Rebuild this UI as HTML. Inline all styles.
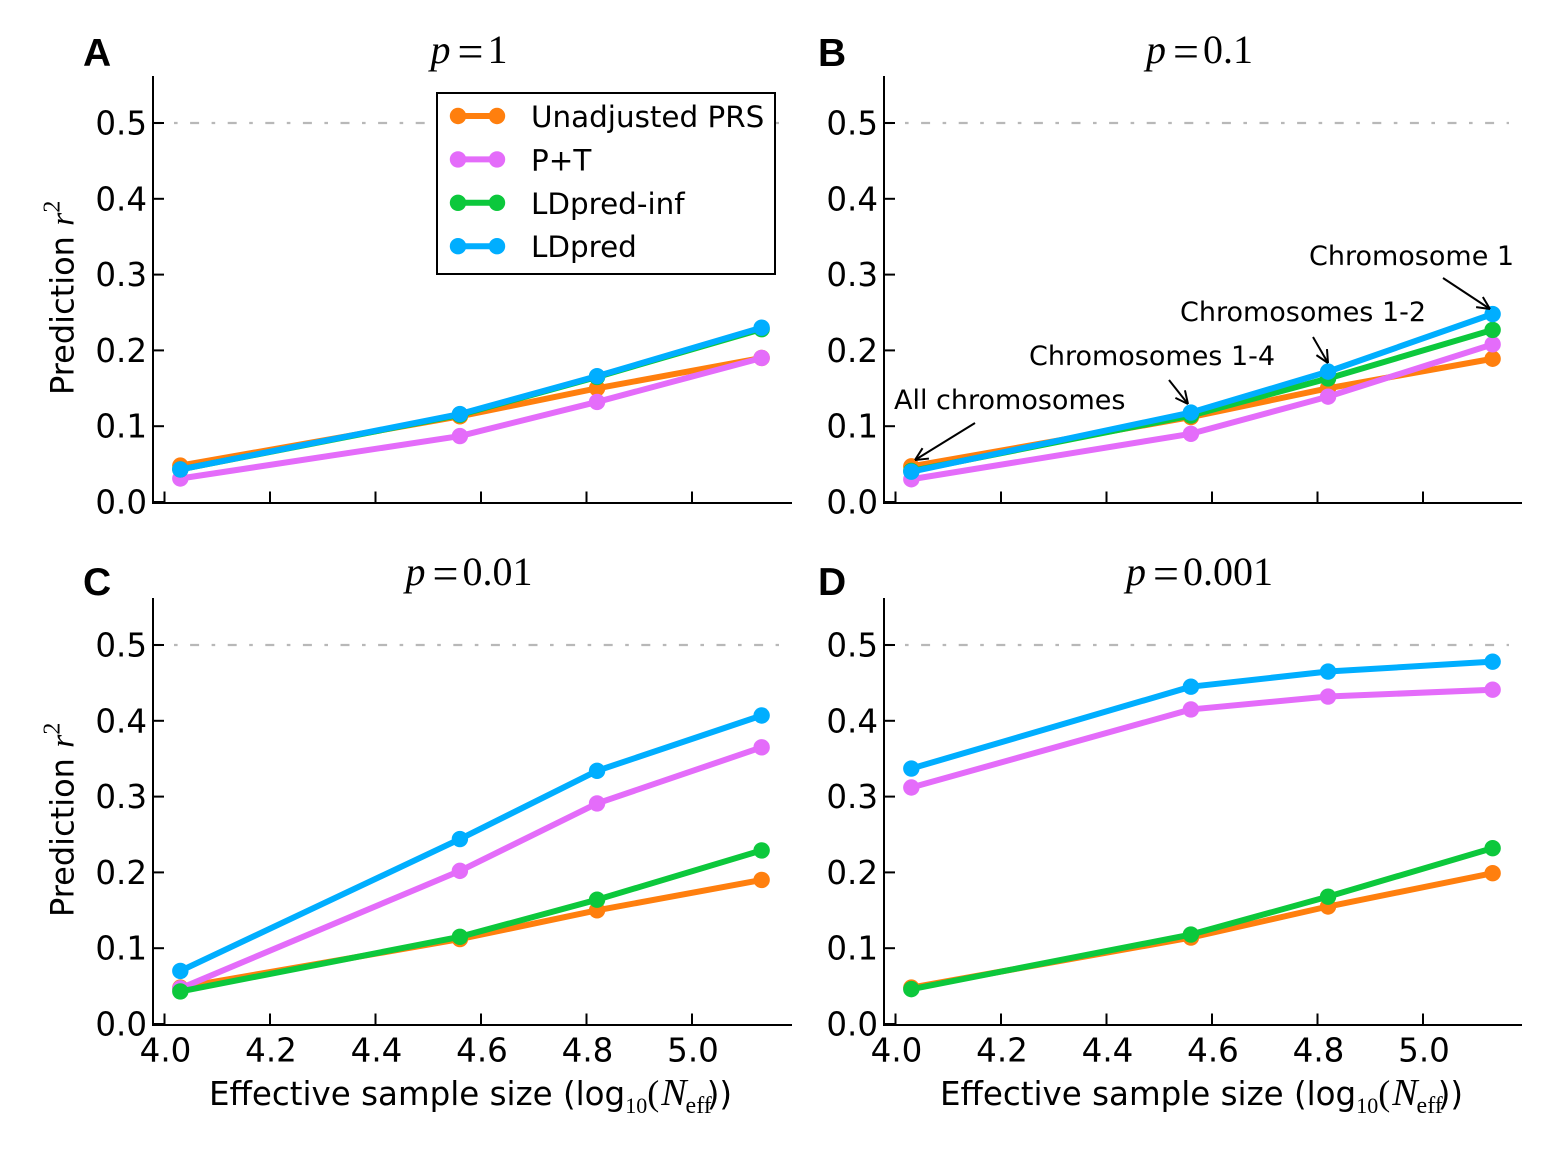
<!DOCTYPE html>
<html>
<head>
<meta charset="utf-8">
<title>Prediction r2 by effective sample size</title>
<style>
html,body{margin:0;padding:0;background:#fff;width:1566px;height:1164px;overflow:hidden}
svg{display:block}
text{font-family:"DejaVu Sans","Liberation Sans",sans-serif;fill:#000}
.math{font-family:"Liberation Serif","DejaVu Serif",serif}
.letter{font-family:"Liberation Sans",sans-serif;font-weight:bold;font-size:39px}
</style>
</head>
<body>
<svg id="chart" width="1566" height="1164" viewBox="0 0 1566 1164" xmlns="http://www.w3.org/2000/svg"></svg>
<script>
const sampleSizes = [4.03, 4.56, 4.82, 5.132];
const xTicks = [4.0, 4.2, 4.4, 4.6, 4.8, 5.0];
const yTicks = [0.0, 0.1, 0.2, 0.3, 0.4, 0.5];
const referenceLevel = 0.5;
const seriesNames = ['Unadjusted PRS', 'P+T', 'LDpred-inf', 'LDpred'];
const panelLetters = ['A', 'B', 'C', 'D'];
const panelPValues = ['1', '0.1', '0.01', '0.001'];

const unadjustedA = [0.048, 0.113, 0.150, 0.190];
const ptA = [0.031, 0.087, 0.132, 0.190];
const infA = [0.043, 0.115, 0.165, 0.228];
const ldpredA = [0.043, 0.116, 0.166, 0.230];

const unadjustedB = [0.047, 0.112, 0.150, 0.189];
const ptB = [0.030, 0.090, 0.139, 0.208];
const infB = [0.041, 0.114, 0.163, 0.227];
const ldpredB = [0.040, 0.118, 0.172, 0.248];

const unadjustedC = [0.048, 0.112, 0.150, 0.190];
const ptC = [0.047, 0.202, 0.291, 0.365];
const infC = [0.043, 0.115, 0.164, 0.229];
const ldpredC = [0.070, 0.244, 0.334, 0.407];

const unadjustedD = [0.048, 0.114, 0.155, 0.199];
const ptD = [0.312, 0.415, 0.432, 0.441];
const infD = [0.046, 0.118, 0.168, 0.232];
const ldpredD = [0.337, 0.445, 0.465, 0.478];

const panelSeries = [
  [unadjustedA, ptA, infA, ldpredA],
  [unadjustedB, ptB, infB, ldpredB],
  [unadjustedC, ptC, infC, ldpredC],
  [unadjustedD, ptD, infD, ldpredD]
];

const colors = ['#ff7f0e', '#e46cfa', '#0cc83c', '#00aeff'];
const NS = 'http://www.w3.org/2000/svg';
const root = document.getElementById('chart');

function make(tag, attrs, parent) {
  const el = document.createElementNS(NS, tag);
  for (const k in attrs) el.setAttribute(k, attrs[k]);
  parent.appendChild(el);
  return el;
}
function slug(s) { return s.toLowerCase().replace(/[^a-z0-9]+/g, '-'); }

function tspan(parent, txt, attrs) {
  const t = make('tspan', attrs || {}, parent);
  t.textContent = txt;
  return t;
}

const layouts = [
  { left: 153, right: 792, x0: 164.5, y0: 502, top: 76, letterX: 83, letterY: 66, titleY: 63, ylabel: true, xlabel: false },
  { left: 884, right: 1522, x0: 895.5, y0: 502, top: 76, letterX: 818, letterY: 66, titleY: 63, ylabel: false, xlabel: false },
  { left: 153, right: 792, x0: 164.5, y0: 1024, top: 598, letterX: 83, letterY: 595, titleY: 585, ylabel: true, xlabel: true },
  { left: 884, right: 1522, x0: 895.5, y0: 1024, top: 598, letterX: 818, letterY: 595, titleY: 585, ylabel: false, xlabel: true }
];

function xScale(layout, v) { return layout.x0 + (v - 4) * 527.5; }
function yScale(layout, v) { return layout.y0 - v * 758; }

function drawPanel(i) {
  const L = layouts[i];
  const panel = make('g', {}, root);
  
  

  const letter = make('text', { x: L.letterX, y: L.letterY, class: 'letter' }, panel);
  letter.textContent = panelLetters[i];
  
  

  const cx = (L.left + L.right) / 2 - 3.5;
  const title = make('text', { x: cx, y: L.titleY, class: 'math', 'text-anchor': 'middle', 'font-size': 40 }, panel);
  tspan(title, 'p', { 'font-style': 'italic' });
  tspan(title, '=', { dx: 7, dy: 4, 'font-size': 46 });
  tspan(title, panelPValues[i], { dx: 4, dy: -4 });
  
  

  const ref = make('line', { x1: L.left - 0.5, x2: L.right - 13, y1: yScale(L, referenceLevel), y2: yScale(L, referenceLevel), stroke: '#b8b8b8', 'stroke-width': 2.2, 'stroke-dasharray': '9 12.5 3.6 12.5' }, panel);
  
  

  const axisY = make('line', { x1: L.left, x2: L.left, y1: L.top, y2: L.y0 + 2, stroke: '#000', 'stroke-width': 2 }, panel);
  
  
  const axisX = make('line', { x1: L.left - 1, x2: L.right, y1: L.y0 + 1, y2: L.y0 + 1, stroke: '#000', 'stroke-width': 2 }, panel);
  
  

  yTicks.forEach(function (t) {
    const y = yScale(L, t);
    const tick = make('line', { x1: L.left, x2: L.left + 11, y1: y, y2: y, stroke: '#000', 'stroke-width': 2 }, panel);
    
    
    const label = make('text', { x: L.left - 6, y: y + 11.5, 'text-anchor': 'end', 'font-size': 32.5 }, panel);
    label.textContent = t.toFixed(1);
    
    
  });
  xTicks.forEach(function (t) {
    const x = xScale(L, t);
    const tick = make('line', { x1: x, x2: x, y1: L.y0, y2: L.y0 - 10.5, stroke: '#000', 'stroke-width': 2 }, panel);
    
    
    if (L.xlabel) {
      const label = make('text', { x: x + 1, y: L.y0 + 37.5, 'text-anchor': 'middle', 'font-size': 32.5 }, panel);
      label.textContent = t.toFixed(1);
      
      
    }
  });

  if (L.ylabel) {
    const yl = make('text', { transform: 'translate(73.5,' + (L.y0 - 107) + ') rotate(-90)', 'font-size': 32 }, panel);
    tspan(yl, 'Prediction ');
    tspan(yl, 'r', { class: 'math', 'font-style': 'italic', 'font-size': 34 });
    tspan(yl, '2', { class: 'math', 'font-size': 24, dy: -14 });
    
    
  }
  if (L.xlabel) {
    const xl = make('text', { x: L.left + 56, y: 1105, 'font-size': 32.5 }, panel);
    tspan(xl, 'Effective sample size (log');
    tspan(xl, '10', { class: 'math', 'font-size': 22, dy: 8 });
    tspan(xl, '(', { class: 'math', 'font-size': 36, dy: -8 });
    tspan(xl, 'N', { class: 'math', 'font-style': 'italic', 'font-size': 38, dx: 2 });
    tspan(xl, 'eff', { class: 'math', 'font-size': 24, dy: 8, dx: -1 });
    tspan(xl, '))', { dy: -8, dx: -5 });
    
    
  }

  panelSeries[i].forEach(function (values, s) {
    const g = make('g', {}, panel);
    
    
    const pts = values.map(function (v, k) { return xScale(L, sampleSizes[k]) + ',' + yScale(L, v); }).join(' ');
    const line = make('polyline', { points: pts, fill: 'none', stroke: colors[s], 'stroke-width': 6, 'stroke-linejoin': 'round' }, g);
    
    
    values.forEach(function (v, k) {
      const dot = make('circle', { cx: xScale(L, sampleSizes[k]), cy: yScale(L, v), r: 8.2, fill: colors[s] }, g);
      
      
    });
  });
}
[0, 1, 2, 3].forEach(drawPanel);

/* legend */
const legend = make('g', {}, root);


const legendBox = make('rect', { x: 437, y: 93, width: 338, height: 181, fill: '#fff', stroke: '#000', 'stroke-width': 2 }, legend);


seriesNames.forEach(function (name, s) {
  const y = 116 + s * 43.4;
  const entry = make('g', {}, legend);
  
  
  make('line', { x1: 458, x2: 497, y1: y, y2: y, stroke: colors[s], 'stroke-width': 6 }, entry);
  make('circle', { cx: 458, cy: y, r: 8.2, fill: colors[s] }, entry);
  make('circle', { cx: 497, cy: y, r: 8.2, fill: colors[s] }, entry);
  const t = make('text', { x: 531, y: y + 11, 'font-size': 29.4 }, entry);
  t.textContent = name;
});

/* annotations */
const annotations = [
  { text: 'All chromosomes', x: 894, y: 409, x1: 975, y1: 423, x2: 915, y2: 460 },
  { text: 'Chromosomes 1-4', x: 1029, y: 365, x1: 1169, y1: 380, x2: 1188, y2: 404 },
  { text: 'Chromosomes 1-2', x: 1180, y: 321, x1: 1313, y1: 337, x2: 1328, y2: 363 },
  { text: 'Chromosome 1', x: 1309, y: 265, x1: 1443, y1: 278, x2: 1490, y2: 309 }
];
annotations.forEach(function (a) {
  const g = make('g', {}, root);
  
  
  const t = make('text', { x: a.x, y: a.y, 'font-size': 27 }, g);
  t.textContent = a.text;
  make('line', { x1: a.x1, y1: a.y1, x2: a.x2, y2: a.y2, stroke: '#000', 'stroke-width': 2 }, g);
  const ang = Math.atan2(a.y2 - a.y1, a.x2 - a.x1);
  [0.45, -0.45].forEach(function (d) {
    make('line', { x1: a.x2, y1: a.y2, x2: a.x2 - 14 * Math.cos(ang + d), y2: a.y2 - 14 * Math.sin(ang + d), stroke: '#000', 'stroke-width': 2 }, g);
  });
});
</script>
</body>
</html>
